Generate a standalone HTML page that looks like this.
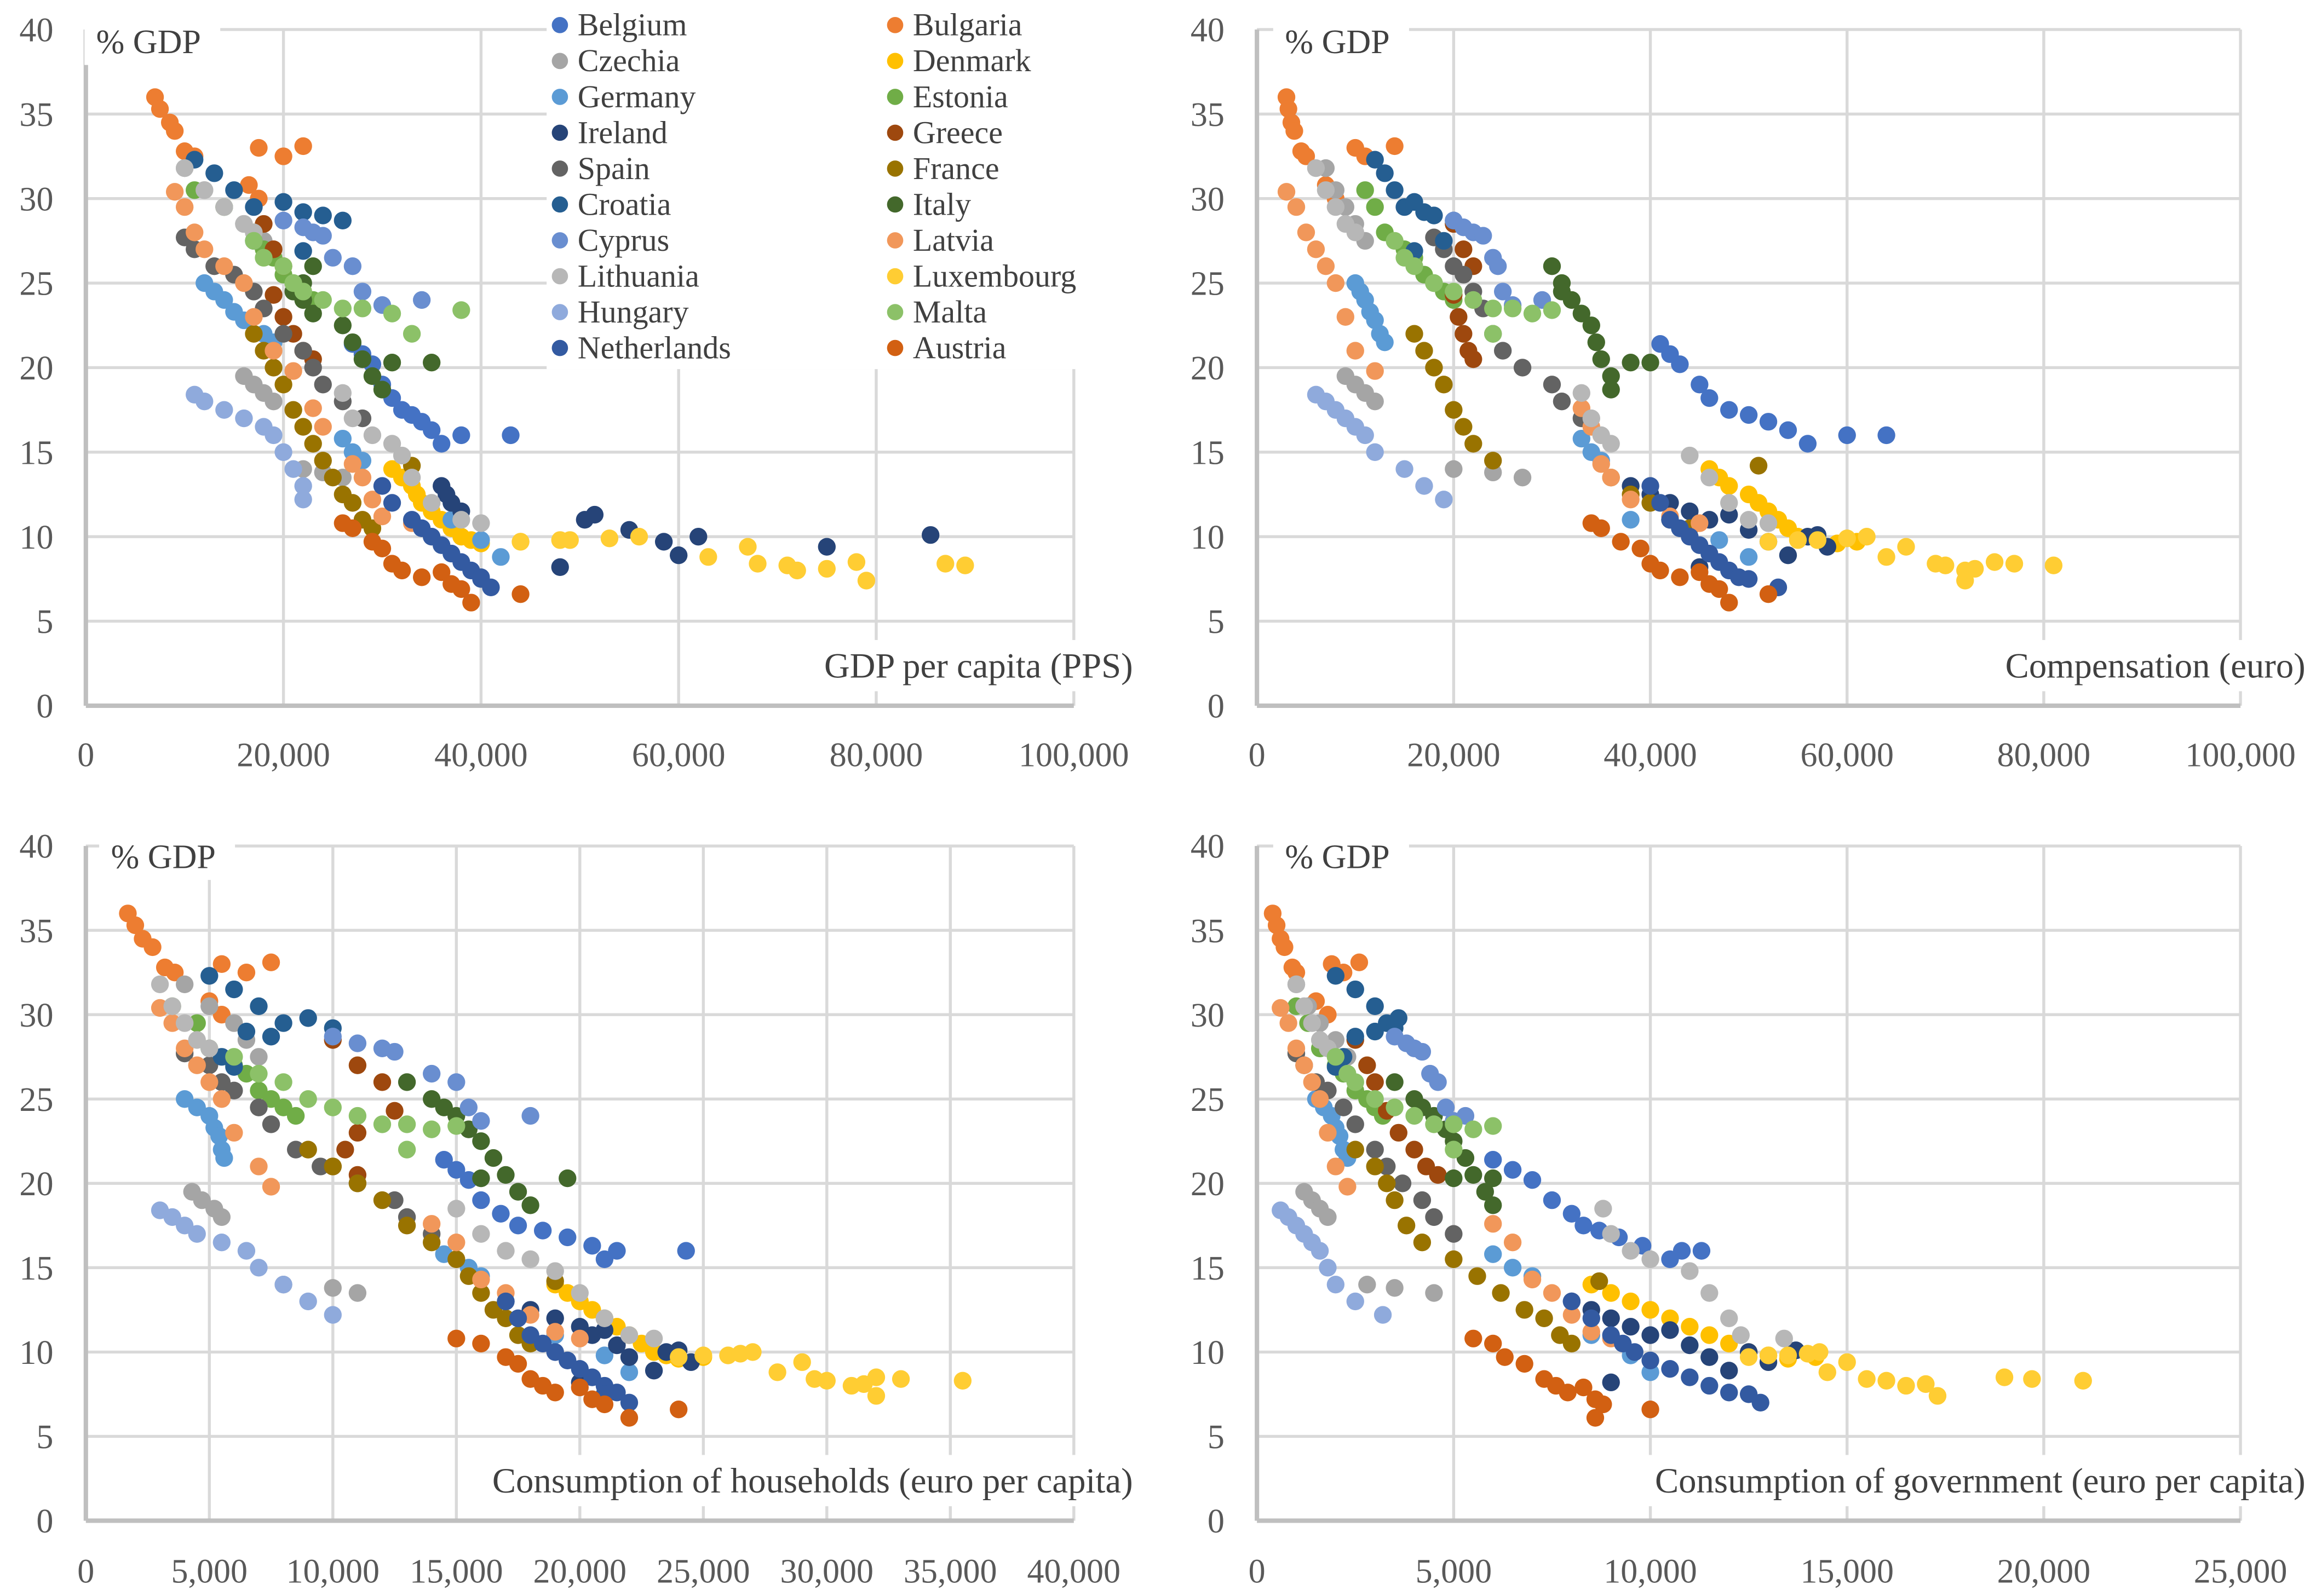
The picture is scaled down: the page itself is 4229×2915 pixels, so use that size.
<!DOCTYPE html>
<html><head><meta charset="utf-8">
<style>
html,body{margin:0;padding:0;background:#fff;}
svg{display:block;font-family:"Liberation Serif",serif;}
</style></head>
<body>
<svg id="chart" width="4229" height="2915" viewBox="0 0 1568 1081" xmlns="http://www.w3.org/2000/svg">
<rect x="0" y="0" width="1568" height="1081" fill="#fff"/>
</svg>
<script>
const countries = ["Belgium","Bulgaria","Czechia","Denmark","Germany","Estonia","Ireland","Greece","Spain","France","Croatia","Italy","Cyprus","Latvia","Lithuania","Luxembourg","Hungary","Malta","Netherlands","Austria"];
const colors = ["#4472C4","#ED7D31","#A5A5A5","#FFC000","#5B9BD5","#70AD47","#264478","#9E480E","#636363","#997300","#255E91","#43682B","#698ED0","#F1975A","#B7B7B7","#FFCD33","#8FAADC","#8CC168","#335AA1","#D26012"];
// y values (% GDP), shared by all four panels
const yBelgium=[21.4,20.8,20.2,19,18.2,17.5,17.2,16.8,16.3,15.5,16,16];
const yBulgaria=[36,35.3,34.5,34,32.8,32.5,30.8,30,33,32.5,33.1];
const yCzechia=[31.8,30.5,29.5,28.5,27.5,19.5,19,18.5,18,14,13.8,13.5];
const yDenmark=[14,13.5,13,12.5,12,11.5,11,10.5,10,9.8,9.6,9.7];
const yGermany=[25,24.5,24,23.3,22.8,22,21.5,15.8,15,14.5,11,9.8,8.8];
const yEstonia=[30.5,29.5,28,27,26.5,25.5,25,24.5,24];
const yIreland=[13,12.5,12,11.5,11,11.3,10.4,9.7,8.9,10,9.4,10.1,8.2];
const yGreece=[28.5,27,26,24.3,23,22,21,20.5];
const ySpain=[27.7,27,26,25.5,24.5,23.5,22,21,20,19,18,17];
const yFrance=[22,21,20,19,17.5,16.5,15.5,14.5,13.5,12.5,12,11,10.5,14.2];
const yCroatia=[32.3,31.5,30.5,29.5,29.8,29.2,29,28.7,27.5,26.9];
const yItaly=[26,25,24.5,24,23.2,22.5,21.5,20.5,19.5,18.7,20.3,20.3];
const yCyprus=[28.7,28.3,28,27.8,26.5,26,24.5,23.7,24];
const yLatvia=[30.4,29.5,28,27,26,25,23,21,19.8,17.6,16.5,14.3,13.5,12.2,11.2,10.8];
const yLithuania=[31.8,30.5,29.5,28.5,28,18.5,17,16,15.5,14.8,13.5,12,11,10.8];
const yLuxembourg=[9.7,9.8,9.8,9.9,10,8.8,9.4,8.4,8.3,8.0,8.1,8.5,7.4,8.4,8.3];
const yHungary=[18.4,18,17.5,17,16.5,16,15,14,13,12.2];
const yMalta=[27.5,26.5,26,25,24.5,24,23.5,23.5,23.2,22,23.4];
const yNetherlands=[13,12,11,10.5,10,9.5,9,8.5,8,7.6,7.5,7];
const yAustria=[10.8,10.5,9.7,9.3,8.4,8.0,7.6,7.9,7.2,6.9,6.1,6.6];
// panel 1: GDP per capita (PPS, thousands)
const gdpBelgium=[27,28,29,30,31,32,33,34,35,36,38,43];
const gdpBulgaria=[7,7.5,8.5,9,10,11,16.5,17.5,17.5,20,22];
const gdpCzechia=[10,12,14,16,18,16,17,18,19,22,24,26];
const gdpDenmark=[31,32,33,33.5,34,35,36,37,38,39,40,44];
const gdpGermany=[12,13,14,15,16,18,19,26,27,28,37,40,42];
const gdpEstonia=[11,14,17,18,19,20,21,22,23];
const gdpIreland=[36,36.5,37,38,50.5,51.5,55,58.5,60,62,75,85.5,48];
const gdpGreece=[18,19,20,19,20,21,22,23];
const gdpSpain=[10,11,13,15,17,18,20,22,23,24,26,28];
const gdpFrance=[17,18,19,20,21,22,23,24,25,26,27,28,29,33];
const gdpCroatia=[11,13,15,17,20,22,24,26,17,22];
const gdpItaly=[23,22,21,22,23,26,27,28,29,30,31,35];
const gdpCyprus=[20,22,23,24,25,27,28,30,34];
const gdpLatvia=[9,10,11,12,14,16,17,19,21,23,24,27,28,29,30,33];
const gdpLithuania=[10,12,14,16,17,26,27,29,31,32,33,35,38,40];
const gdpLuxembourg=[44,48,49,53,56,63,67,68,71,72,75,78,79,87,89];
const gdpHungary=[11,12,14,16,18,19,20,21,22,22];
const gdpMalta=[17,18,20,21,22,24,26,28,31,33,38];
const gdpNetherlands=[30,31,33,34,35,36,37,38,39,40,40,41];
const gdpAustria=[26,27,29,30,31,32,34,36,37,38,39,44];
// panel 2: compensation (euro, thousands)
const compBelgium=[41,42,43,45,46,48,50,52,54,56,60,64];
const compBulgaria=[3,3.2,3.5,3.8,4.5,5,7,8,10,11,14];
const compCzechia=[7,8,9,10,11,9,10,11,12,20,24,27];
const compDenmark=[46,47,48,50,51,52,53,54,55,57,59,61];
const compGermany=[10,10.5,11,11.5,12,12.5,13,33,34,35,38,47,50];
const compEstonia=[11,12,13,15,16,17,18,19,20];
const compIreland=[38,40,42,44,46,48,50,52,54,56,58,57,45];
const compGreece=[20,21,22,20,20.5,21,21.5,22];
const compSpain=[18,19,20,21,22,23,24,25,27,30,31,33];
const compFrance=[16,17,18,19,20,21,22,24,36,38,40,42,44,51];
const compCroatia=[12,13,14,15,16,17,18,20,19,16];
const compItaly=[30,31,31,32,33,34,34.5,35,36,36,38,40];
const compCyprus=[20,21,22,23,24,24.5,25,26,29];
const compLatvia=[3,4,5,6,7,8,9,10,12,33,34,35,36,38,42,45];
const compLithuania=[6,7,8,9,10,33,34,35,36,44,46,48,50,52];
const compLuxembourg=[52,55,57,60,62,64,66,69,70,72,73,75,72,77,81];
const compHungary=[6,7,8,9,10,11,12,15,17,19];
const compMalta=[14,15,16,18,20,22,24,26,28,24,30];
const compNetherlands=[40,41,42,43,44,45,46,47,48,49,50,53];
const compAustria=[34,35,37,39,40,41,43,45,46,47,48,52];
// panel 3: household consumption (euro per capita, thousands)
const hhBelgium=[14.5,15,15.5,16,16.8,17.5,18.5,19.5,20.5,21,21.5,24.3];
const hhBulgaria=[1.7,2,2.3,2.7,3.2,3.6,5,5.5,5.5,6.5,7.5];
const hhCzechia=[4,5,6,6.5,7,4.3,4.7,5.2,5.5,8,10,11];
const hhDenmark=[19,19.5,20,20.5,21,21.5,22,22.5,23,23.5,24,25];
const hhGermany=[4,4.5,5,5.2,5.4,5.5,5.6,14.5,15.5,16,19,21,22];
const hhEstonia=[3.5,4.5,5,6,6.5,7,7.5,8,8.5];
const hhIreland=[17,18,19,20,20.5,21,21.5,22,23,23.5,24.5,24,20];
const hhGreece=[10,11,12,12.5,11,10.5,10,11];
const hhSpain=[4,5,5.5,6,7,7.5,8.5,9.5,11,12.5,13,14];
const hhFrance=[9,10,11,12,13,14,15,15.5,16,16.5,17,17.5,18,19];
const hhCroatia=[5,6,7,8,9,10,6.5,7.5,5.5,6];
const hhItaly=[13,14,14.5,15,15.5,16,16.5,17,17.5,18,16,19.5];
const hhCyprus=[10,11,12,12.5,14,15,15.5,16,18];
const hhLatvia=[3,3.5,4,4.5,5,5.5,6,7,7.5,14,15,16,17,18,19,20];
const hhLithuania=[3,3.5,4,4.5,5,15,16,17,18,19,20,21,22,23];
const hhLuxembourg=[24,25,26,26.5,27,28,29,29.5,30,31,31.5,32,32,33,35.5];
const hhHungary=[3,3.5,4,4.5,5.5,6.5,7,8,9,10];
const hhMalta=[6,7,8,9,10,11,12,13,14,13,15];
const hhNetherlands=[17,17.5,18,18.5,19,19.5,20,20.5,21,21.5,21,22];
const hhAustria=[15,16,17,17.5,18,18.5,19,20,20.5,21,22,24];
// panel 4: government consumption (euro per capita, thousands)
const govBelgium=[6,6.5,7,7.5,8,8.3,8.7,9.2,9.8,10.5,10.8,11.3];
const govBulgaria=[0.4,0.5,0.6,0.7,0.9,1,1.5,1.8,1.9,2.2,2.6];
const govCzechia=[1,1.3,1.6,2,2.3,1.2,1.4,1.6,1.8,2.8,3.5,4.5];
const govDenmark=[8.5,9,9.5,10,10.5,11,11.5,12,12.5,13,13.5,14.2];
const govGermany=[1.5,1.7,1.9,2,2.1,2.2,2.3,6,6.5,7,8.5,9.5,10];
const govEstonia=[1,1.3,1.6,2,2.2,2.5,2.8,3,3.2];
const govIreland=[8,8.5,9,9.5,10,10.5,11,11.5,12,12.5,13,13.7,9];
const govGreece=[2.5,2.8,3,3.3,3.6,4,4.3,4.6];
const govSpain=[1,1.2,1.5,1.8,2.2,2.5,3,3.3,3.7,4.2,4.5,5];
const govFrance=[2.5,3,3.3,3.5,3.8,4.2,5,5.6,6.2,6.8,7.3,7.7,8,8.7];
const govCroatia=[2,2.5,3,3.3,3.6,3.5,3,2.5,2.2,2];
const govItaly=[3.5,4,4.2,4.5,4.8,5,5.3,5.5,5.8,6,5,6];
const govCyprus=[3.5,3.8,4,4.2,4.4,4.6,4.8,5,5.3];
const govLatvia=[0.6,0.8,1,1.2,1.4,1.6,1.8,2,2.3,6,6.5,7,7.5,8,8.5,9];
const govLithuania=[1,1.2,1.4,1.6,1.8,8.8,9,9.5,10,11,11.5,12,12.3,13.4];
const govLuxembourg=[12.5,13,13.5,14,14.3,14.5,15,15.5,16,16.5,17,19,17.3,19.7,21];
const govHungary=[0.6,0.8,1,1.2,1.4,1.6,1.8,2,2.5,3.2];
const govMalta=[2,2.3,2.5,3,3.5,4,4.5,5,5.5,5,6];
const govNetherlands=[8,8.5,9,9.3,9.6,10,10.5,11,11.5,12,12.5,12.8];
const govAustria=[5.5,6,6.3,6.8,7.3,7.6,7.9,8.3,8.6,8.8,8.6,10];

const yTicks=[0,5,10,15,20,25,30,35,40];
const ticksGdp=[0,20000,40000,60000,80000,100000];
const ticksComp=[0,20000,40000,60000,80000,100000];
const ticksHh=[0,5000,10000,15000,20000,25000,30000,35000,40000];
const ticksGov=[0,5000,10000,15000,20000,25000];

const ys=[yBelgium,yBulgaria,yCzechia,yDenmark,yGermany,yEstonia,yIreland,yGreece,ySpain,yFrance,yCroatia,yItaly,yCyprus,yLatvia,yLithuania,yLuxembourg,yHungary,yMalta,yNetherlands,yAustria];
const xsGdp=[gdpBelgium,gdpBulgaria,gdpCzechia,gdpDenmark,gdpGermany,gdpEstonia,gdpIreland,gdpGreece,gdpSpain,gdpFrance,gdpCroatia,gdpItaly,gdpCyprus,gdpLatvia,gdpLithuania,gdpLuxembourg,gdpHungary,gdpMalta,gdpNetherlands,gdpAustria];
const xsComp=[compBelgium,compBulgaria,compCzechia,compDenmark,compGermany,compEstonia,compIreland,compGreece,compSpain,compFrance,compCroatia,compItaly,compCyprus,compLatvia,compLithuania,compLuxembourg,compHungary,compMalta,compNetherlands,compAustria];
const xsHh=[hhBelgium,hhBulgaria,hhCzechia,hhDenmark,hhGermany,hhEstonia,hhIreland,hhGreece,hhSpain,hhFrance,hhCroatia,hhItaly,hhCyprus,hhLatvia,hhLithuania,hhLuxembourg,hhHungary,hhMalta,hhNetherlands,hhAustria];
const xsGov=[govBelgium,govBulgaria,govCzechia,govDenmark,govGermany,govEstonia,govIreland,govGreece,govSpain,govFrance,govCroatia,govItaly,govCyprus,govLatvia,govLithuania,govLuxembourg,govHungary,govMalta,govNetherlands,govAustria];

const NS="http://www.w3.org/2000/svg";
const svg=document.getElementById('chart');
function mk(tag,attrs,parent){const e=document.createElementNS(NS,tag);for(const k in attrs)e.setAttribute(k,attrs[k]);(parent||svg).appendChild(e);return e;}
function fmt(v){return v.toLocaleString('en-US');}

const panels=[
 {key:'gdp',xs:xsGdp,ticks:ticksGdp,x0:58,x1:727,y0:478,y1:20,title:'GDP per capita (PPS)',ylab:[65,36],tx:767,ty:459,tickY:519,legend:true},
 {key:'comp',xs:xsComp,ticks:ticksComp,x0:851,x1:1517,y0:478,y1:20,title:'Compensation (euro)',ylab:[870,36],tx:1561,ty:459,tickY:519},
 {key:'hh',xs:xsHh,ticks:ticksHh,x0:58,x1:727,y0:1030,y1:573,title:'Consumption of households (euro per capita)',ylab:[75,588],tx:767,ty:1011,tickY:1072},
 {key:'gov',xs:xsGov,ticks:ticksGov,x0:851,x1:1517,y0:1030,y1:573,title:'Consumption of government (euro per capita)',ylab:[870,588],tx:1561,ty:1011,tickY:1072}
];

panels.forEach(p=>{
 const g=mk('g',{});
 
 
 const xmax=p.ticks[p.ticks.length-1];
 const sx=v=>p.x0+(v/xmax)*(p.x1-p.x0);
 const sy=v=>p.y0-(v/40)*(p.y0-p.y1);
 yTicks.forEach(t=>{
  if(t===0)return;
  const l=mk('line',{x1:p.x0,x2:p.x1,y1:sy(t),y2:sy(t),stroke:'#d9d9d9','stroke-width':2},g);
  
  
 });
 p.ticks.forEach(t=>{
  if(t===0)return;
  const l=mk('line',{x1:sx(t),x2:sx(t),y1:sy(0),y2:sy(40),stroke:'#d9d9d9','stroke-width':2},g);
  
  
 });
 const ax=mk('line',{x1:p.x0,x2:p.x1,y1:sy(0),y2:sy(0),stroke:'#bfbfbf','stroke-width':3},g);
 
 
 const ay=mk('line',{x1:p.x0,x2:p.x0,y1:sy(0),y2:sy(40),stroke:'#bfbfbf','stroke-width':3},g);
 
 
 yTicks.forEach(t=>{
  const tx=mk('text',{x:p.x0-22,y:sy(t)+8,'text-anchor':'end','font-size':23,fill:'#595959'},g);
  tx.textContent=t;
  
  
 });
 p.ticks.forEach(t=>{
  const tx=mk('text',{x:sx(t),y:p.tickY,'text-anchor':'middle','font-size':23,fill:'#595959'},g);
  tx.textContent=fmt(t);
  
  
 });
 countries.forEach((c,i)=>{
  const yy=ys[i],xx=p.xs[i];
  for(let j=0;j<yy.length&&j<xx.length;j++){
   const pt=mk('circle',{cx:sx(xx[j]*1000),cy:sy(yy[j]),r:6,fill:colors[i]},g);
   
   
  }
 });
 mk('rect',{x:p.ylab[0]-8,y:p.ylab[1]-26,width:92,height:34,fill:'#fff'},g);
 const yl=mk('text',{x:p.ylab[0],y:p.ylab[1],'font-size':23,fill:'#404040'},g);
 yl.textContent='% GDP';
 
 
 const xt=mk('text',{x:p.tx,y:p.ty,'text-anchor':'end','font-size':24,fill:'#404040'},g);
 xt.textContent=p.title;
 
 
 const bb=xt.getBBox();
 const bg=mk('rect',{x:bb.x-6,y:bb.y-4,width:bb.width+12,height:bb.height+8,fill:'#fff'},g);
 g.insertBefore(bg,xt);
 if(p.legend){
  const lg=mk('g',{},g);
  
  
  mk('rect',{x:370,y:3,width:368,height:247,fill:'#fff'},lg);
  countries.forEach((c,i)=>{
   const col=i%2,row=Math.floor(i/2);
   const mx=col===0?379:606, my=17+row*24.3;
   const e=mk('g',{},lg);
   
   
   mk('circle',{cx:mx,cy:my,r:5.5,fill:colors[i]},e);
   const t=mk('text',{x:mx+12,y:my+7,'font-size':21.5,fill:'#404040'},e);
   t.textContent=c;
  });
 }
});
</script>
</body></html>
